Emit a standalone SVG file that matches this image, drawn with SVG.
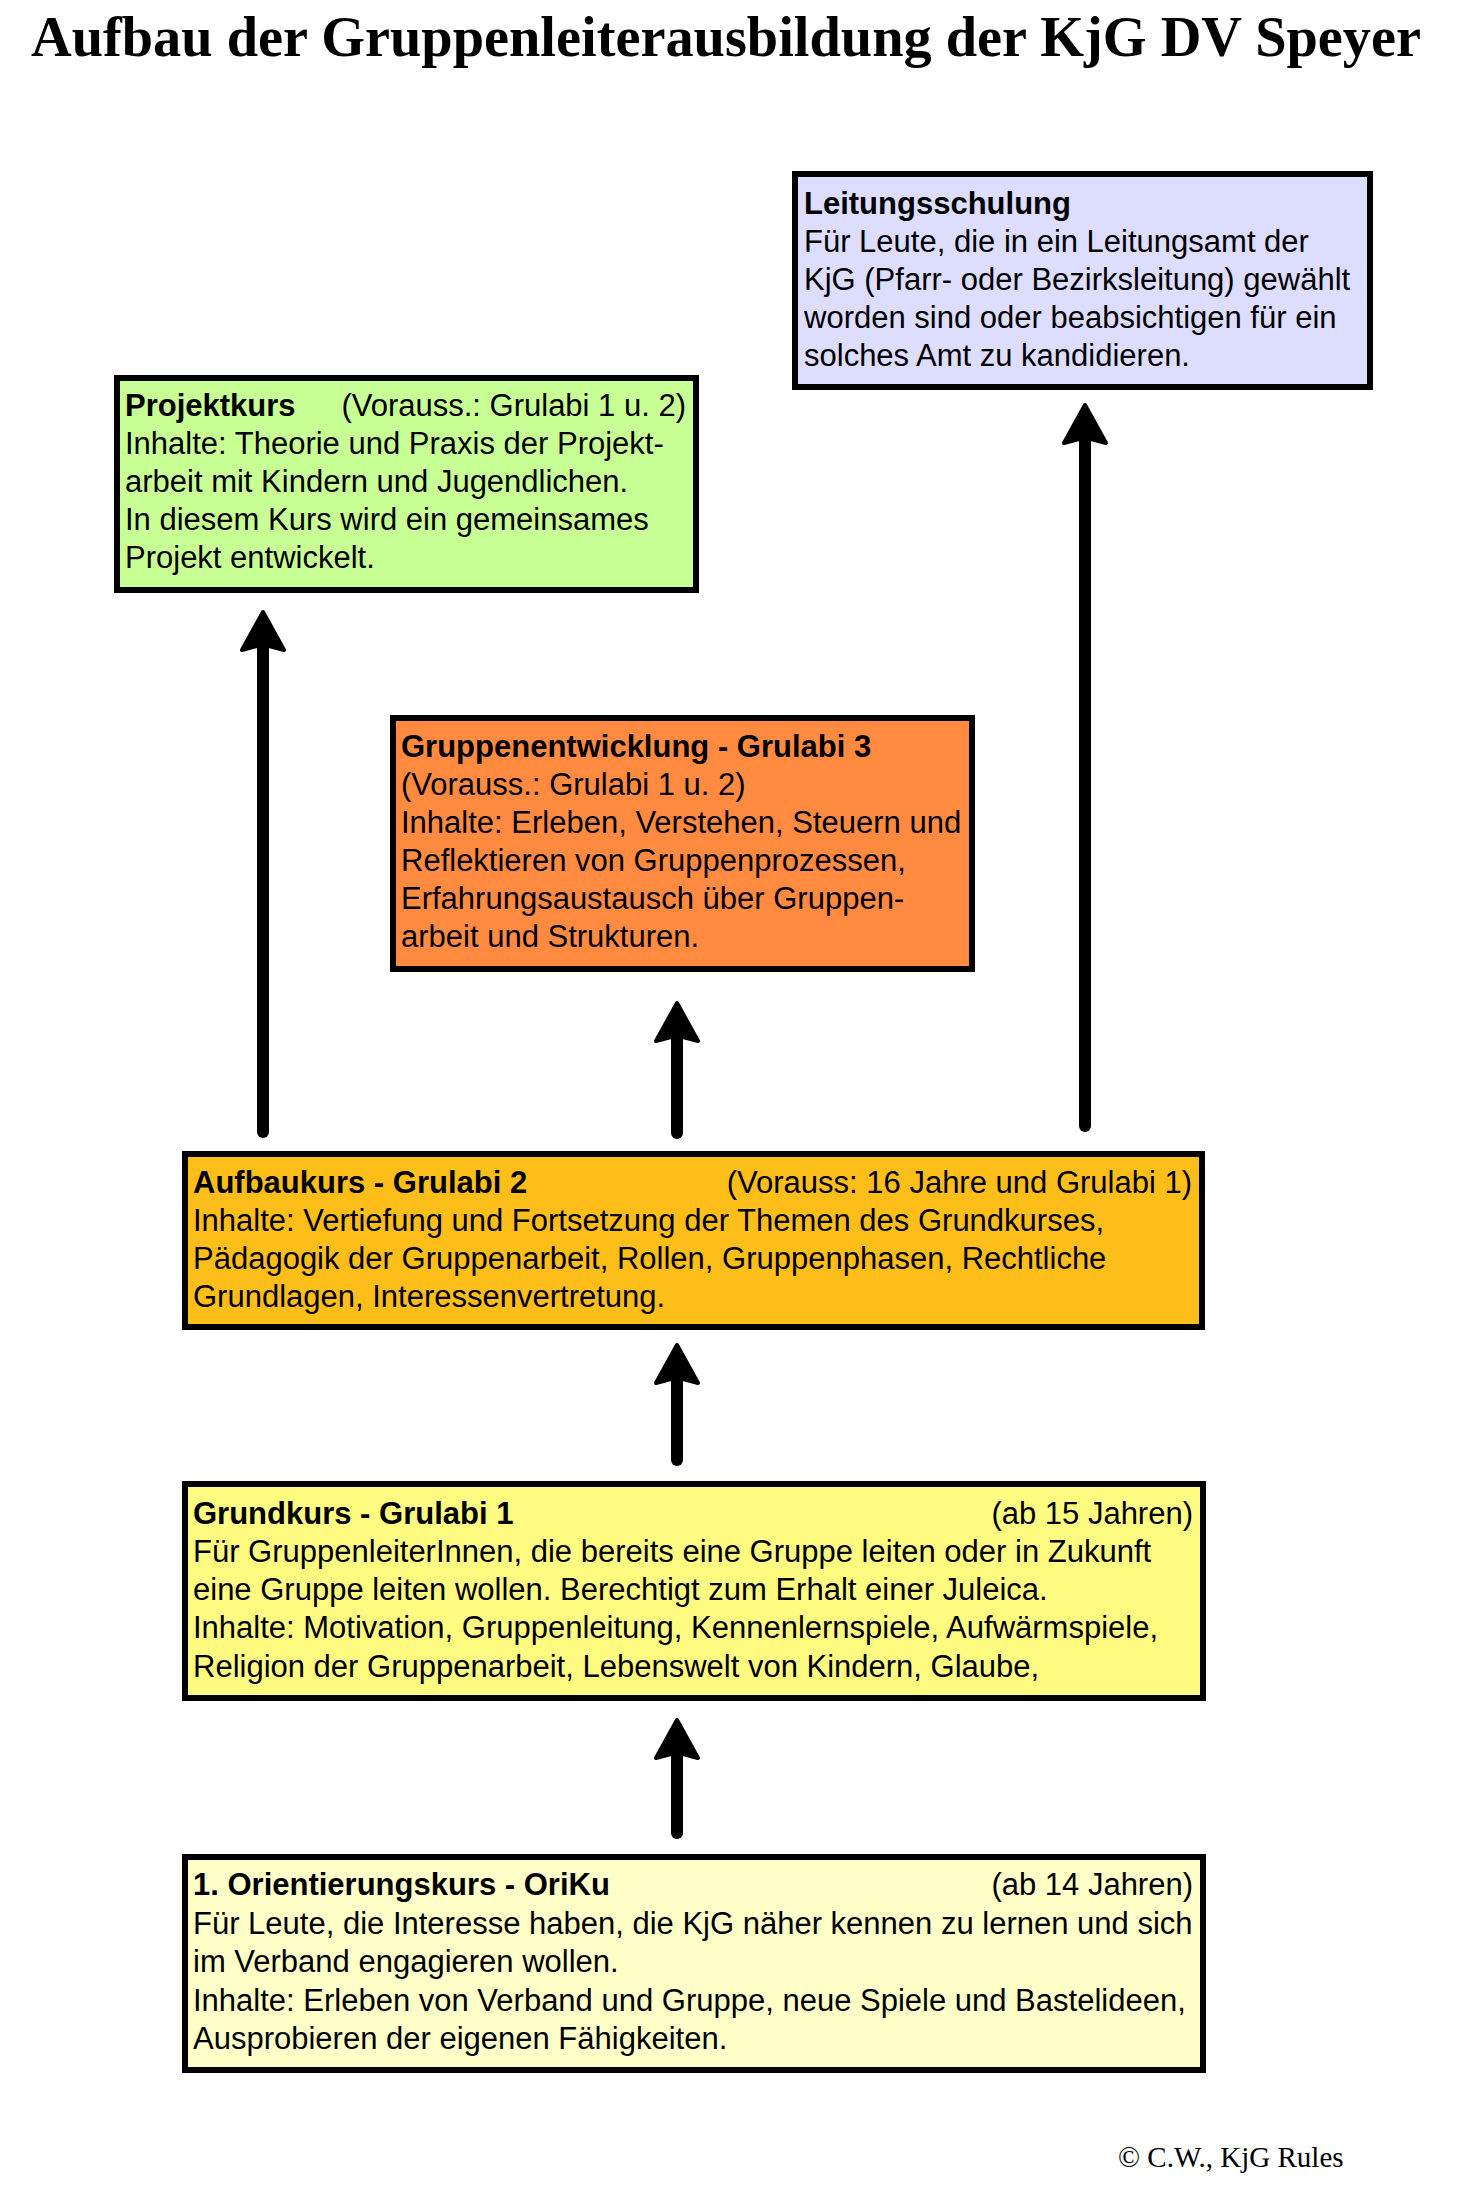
<svg xmlns="http://www.w3.org/2000/svg" xmlns:xlink="http://www.w3.org/1999/xlink" width="1473" height="2201" viewBox="0 0 1473 2201">
<style>
.box{stroke:#000;stroke-width:6}
.t{font-family:"Liberation Sans",Arial,Helvetica,sans-serif;font-size:31px;fill:#000}
.b{font-weight:bold}
.e{text-anchor:end}
.shaft{stroke:#000;stroke-width:12;stroke-linecap:round;fill:none}
.head{fill:#000;stroke:#000;stroke-width:4;stroke-linejoin:round}
</style>
<defs>
<path id="ah" class="head" d="M0,2 L21,40 L6,36 L-6,36 L-21,40 Z"/>
</defs>
<rect width="1473" height="2201" fill="#fff"/>
<text x="31" y="56" font-family="'Liberation Serif','Times New Roman',serif" font-weight="bold" font-size="56" textLength="1390" lengthAdjust="spacingAndGlyphs">Aufbau der Gruppenleiterausbildung der KjG DV Speyer</text>

<g id="connectors">
<line class="shaft" x1="263" y1="1132" x2="263" y2="640"/><use xlink:href="#ah" transform="translate(263,610)"/>
<line class="shaft" x1="1085" y1="1126" x2="1085" y2="433"/><use xlink:href="#ah" transform="translate(1085,403)"/>
<line class="shaft" x1="677" y1="1133" x2="677" y2="1031"/><use xlink:href="#ah" transform="translate(677,1001)"/>
<line class="shaft" x1="677" y1="1460" x2="677" y2="1373"/><use xlink:href="#ah" transform="translate(677,1343)"/>
<line class="shaft" x1="677" y1="1833" x2="677" y2="1748"/><use xlink:href="#ah" transform="translate(677,1718)"/>
</g>

<g id="leitungsschulung">
<rect class="box" x="795" y="174" width="575" height="213" fill="#DDDDFF"/>
<text class="t b" x="804" y="214">Leitungsschulung</text>
<text class="t" x="804" y="252">Für Leute, die in ein Leitungsamt der</text>
<text class="t" x="804" y="290">KjG (Pfarr- oder Bezirksleitung) gewählt</text>
<text class="t" x="804" y="328">worden sind oder beabsichtigen für ein</text>
<text class="t" x="804" y="366">solches Amt zu kandidieren.</text>
</g>

<g id="projektkurs">
<rect class="box" x="117" y="378" width="579" height="212" fill="#C8FF94"/>
<text class="t b" x="125" y="416">Projektkurs</text>
<text class="t e" x="686" y="416">(Vorauss.: Grulabi 1 u. 2)</text>
<text class="t" x="125" y="454">Inhalte: Theorie und Praxis der Projekt-</text>
<text class="t" x="125" y="492">arbeit mit Kindern und Jugendlichen.</text>
<text class="t" x="125" y="530">In diesem Kurs wird ein gemeinsames</text>
<text class="t" x="125" y="568">Projekt entwickelt.</text>
</g>

<g id="grulabi3">
<rect class="box" x="393" y="718" width="579" height="251" fill="#FF8A40"/>
<text class="t b" x="401" y="757">Gruppenentwicklung - Grulabi 3</text>
<text class="t" x="401" y="795">(Vorauss.: Grulabi 1 u. 2)</text>
<text class="t" x="401" y="833">Inhalte: Erleben, Verstehen, Steuern und</text>
<text class="t" x="401" y="871">Reflektieren von Gruppenprozessen,</text>
<text class="t" x="401" y="909">Erfahrungsaustausch über Gruppen-</text>
<text class="t" x="401" y="947">arbeit und Strukturen.</text>
</g>

<g id="grulabi2">
<rect class="box" x="185" y="1154" width="1017" height="173" fill="#FDBE1A"/>
<text class="t b" x="193" y="1193">Aufbaukurs - Grulabi 2</text>
<text class="t e" x="1192" y="1193">(Vorauss: 16 Jahre und Grulabi 1)</text>
<text class="t" x="193" y="1231">Inhalte: Vertiefung und Fortsetzung der Themen des Grundkurses,</text>
<text class="t" x="193" y="1269">Pädagogik der Gruppenarbeit, Rollen, Gruppenphasen, Rechtliche</text>
<text class="t" x="193" y="1307">Grundlagen, Interessenvertretung.</text>
</g>

<g id="grulabi1">
<rect class="box" x="185" y="1484" width="1018" height="214" fill="#FFFB80"/>
<text class="t b" x="193" y="1524">Grundkurs - Grulabi 1</text>
<text class="t e" x="1193" y="1524">(ab 15 Jahren)</text>
<text class="t" x="193" y="1562">Für GruppenleiterInnen, die bereits eine Gruppe leiten oder in Zukunft</text>
<text class="t" x="193" y="1600">eine Gruppe leiten wollen. Berechtigt zum Erhalt einer Juleica.</text>
<text class="t" x="193" y="1638">Inhalte: Motivation, Gruppenleitung, Kennenlernspiele, Aufwärmspiele,</text>
<text class="t" x="193" y="1677">Religion der Gruppenarbeit, Lebenswelt von Kindern, Glaube,</text>
</g>

<g id="oriku">
<rect class="box" x="185" y="1857" width="1018" height="213" fill="#FFFFC8"/>
<text class="t b" x="193" y="1895">1. Orientierungskurs - OriKu</text>
<text class="t e" x="1193" y="1895">(ab 14 Jahren)</text>
<text class="t" x="193" y="1934">Für Leute, die Interesse haben, die KjG näher kennen zu lernen und sich</text>
<text class="t" x="193" y="1972">im Verband engagieren wollen.</text>
<text class="t" x="193" y="2011">Inhalte: Erleben von Verband und Gruppe, neue Spiele und Bastelideen,</text>
<text class="t" x="193" y="2049">Ausprobieren der eigenen Fähigkeiten.</text>
</g>

<text x="1118" y="2167" font-family="'Liberation Serif','Times New Roman',serif" font-size="29">© C.W., KjG Rules</text>
</svg>
